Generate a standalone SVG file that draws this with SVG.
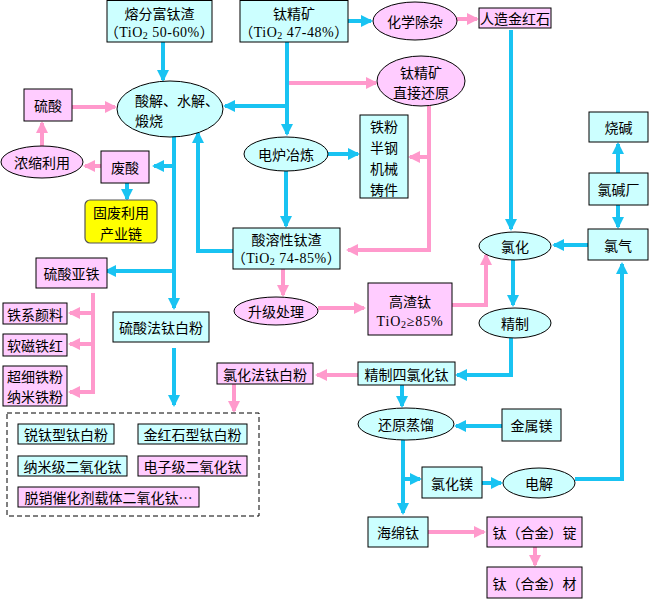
<svg xmlns="http://www.w3.org/2000/svg" width="650" height="600" viewBox="0 0 650 600">
<style>
.c{fill:#CCFFFF;stroke:#000;stroke-width:1}
.p{fill:#FFCCFF;stroke:#000;stroke-width:1}
.y{fill:#FFFF00;stroke:#555;stroke-width:1.2}
.b{fill:none;stroke:#19C3F2;stroke-width:4;marker-end:url(#ab)}
.k{fill:none;stroke:#FF99CC;stroke-width:4;marker-end:url(#ap)}
text{font-family:"Noto Sans CJK SC",sans-serif;font-size:14px;fill:#000;text-anchor:middle;dominant-baseline:central}
.t{font-family:"Liberation Serif","Noto Sans CJK SC",serif;letter-spacing:0.5px}
.l{text-anchor:start}
.s{font-size:10px}
</style>
<defs>
<marker id="ab" markerUnits="userSpaceOnUse" markerWidth="12" markerHeight="12" refX="10" refY="6" orient="auto"><path d="M0,0 L12,6 L0,12 z" fill="#19C3F2"/></marker>
<marker id="ap" markerUnits="userSpaceOnUse" markerWidth="12" markerHeight="12" refX="10" refY="6" orient="auto"><path d="M0,0 L12,6 L0,12 z" fill="#FF99CC"/></marker>
</defs>
<rect width="650" height="600" fill="#fff"/>
<g id="connectors">
<path class="b" d="M163,42 V80"/>
<path class="b" d="M287,42 V134"/>
<path class="b" d="M287,106 H225"/>
<path class="k" d="M289,83 H376"/>
<path class="b" d="M328,154 H358"/>
<path class="b" d="M286,171 V226"/>
<path class="k" d="M429,106 V250 H348"/>
<path class="k" d="M429,157 H410"/>
<path class="b" d="M233,251 H198 V133"/>
<path class="b" d="M174,136 V308"/>
<path class="b" d="M174,166 H154"/>
<path class="b" d="M174,271 H106"/>
<path class="k" d="M72,107 H115"/>
<path class="k" d="M42,147 V123"/>
<path class="k" d="M101,166 H85"/>
<path class="b" d="M127,183 V199"/>
<path class="k" d="M93,293 V392 H70"/>
<path class="k" d="M93,313 H70"/>
<path class="k" d="M93,344 H70"/>
<path class="b" d="M174,348 V405"/>
<path class="k" d="M234,384 V411"/>
<path class="k" d="M358,375 H317"/>
<path class="b" d="M511,30 V229"/>
<path class="b" d="M588,245 H554"/>
<path class="b" d="M513,260 V305"/>
<path class="b" d="M511,338 V375 H457"/>
<path class="b" d="M402,385 V406"/>
<path class="b" d="M502,426 H456"/>
<path class="b" d="M403,440 V513"/>
<path class="b" d="M403,479 H420"/>
<path class="b" d="M482,483 H501"/>
<path class="b" d="M575,479 H622 V264"/>
<path class="b" d="M618,173 V144"/>
<path class="b" d="M618,205 V227"/>
<path class="b" d="M348,21 H371"/>
<path class="k" d="M457,19 H477"/>
<path class="k" d="M283,269 V295"/>
<path class="k" d="M318,308 H364"/>
<path class="k" d="M452,305 H486 V255"/>
<path class="k" d="M428,532 H484"/>
<path class="k" d="M535,547 V565"/>
</g>
<g id="n-rongfen"><rect class="c" x="107" y="0.5" width="105" height="41.5"/><text x="159.5" y="13">熔分富钛渣</text><text class="t" x="159.5" y="32">（TiO<tspan class="s" dy="3">2</tspan><tspan dy="-3"> 50-60%）</tspan></text></g>
<g id="n-taijingkuang"><rect class="c" x="240" y="0.5" width="108" height="41.5"/><text x="294" y="13">钛精矿</text><text class="t" x="294" y="32">（TiO<tspan class="s" dy="3">2</tspan><tspan dy="-3"> 47-48%）</tspan></text></g>
<g id="n-huaxue"><ellipse class="p" cx="415" cy="21" rx="42" ry="19"/><text x="415" y="21">化学除杂</text></g>
<g id="n-rengzao"><rect class="p" x="479" y="8" width="72" height="20"/><text x="515" y="18">人造金红石</text></g>
<g id="n-zhijie"><ellipse class="p" cx="421" cy="81" rx="44" ry="25"/><text x="421" y="72">钛精矿</text><text x="421" y="92">直接还原</text></g>
<g id="n-tiefen"><rect class="c" x="360" y="115" width="48" height="83"/><text x="384" y="126">铁粉</text><text x="384" y="147">半钢</text><text x="384" y="168">机械</text><text x="384" y="189">铸件</text></g>
<g id="n-suanjie"><ellipse class="c" cx="170" cy="109" rx="53" ry="28"/><text class="l" x="135" y="100">酸解、水解、</text><text class="l" x="135" y="120">煅烧</text></g>
<g id="n-dianlu"><ellipse class="c" cx="286" cy="154" rx="42" ry="17"/><text x="286" y="154">电炉冶炼</text></g>
<g id="n-suanrong"><rect class="c" x="233" y="228" width="107" height="41"/><text x="286.5" y="239">酸溶性钛渣</text><text class="t" x="286.5" y="258">（TiO<tspan class="s" dy="3">2</tspan><tspan dy="-3"> 74-85%）</tspan></text></g>
<g id="n-liusuan"><rect class="p" x="24" y="89" width="48" height="32"/><text x="48" y="105">硫酸</text></g>
<g id="n-nongsuo"><ellipse class="p" cx="42" cy="162" rx="41" ry="16"/><text x="42" y="162">浓缩利用</text></g>
<g id="n-feisuan"><rect class="p" x="101" y="151" width="48" height="32"/><text x="125" y="167">废酸</text></g>
<g id="n-gufei"><rect class="y" x="85" y="200" width="72" height="43" rx="5"/><text x="121" y="212">固废利用</text><text x="121" y="233">产业链</text></g>
<g id="n-liusuanyatie"><rect class="p" x="36" y="258" width="71" height="30"/><text x="71.5" y="273">硫酸亚铁</text></g>
<g id="n-tiexi"><rect class="p" x="3" y="303" width="64" height="21"/><text x="35" y="313.5">铁系颜料</text></g>
<g id="n-ruanci"><rect class="p" x="3" y="334" width="64" height="22"/><text x="35" y="345">软磁铁红</text></g>
<g id="n-chaoxi"><rect class="p" x="3" y="366" width="64" height="40"/><text x="35" y="376">超细铁粉</text><text x="35" y="396">纳米铁粉</text></g>
<g id="n-liusuanfa"><rect class="c" x="113" y="312" width="96" height="30"/><text x="161" y="327">硫酸法钛白粉</text></g>
<g id="n-lvhuafa"><rect class="p" x="217" y="363" width="96" height="21"/><text x="265" y="373.5">氯化法钛白粉</text></g>
<g id="n-products">
<rect x="7" y="413" width="252" height="103" fill="none" stroke="#000" stroke-width="1" stroke-dasharray="5,3"/>
<rect class="c" x="18" y="424" width="96" height="20"/><text x="66" y="434">锐钛型钛白粉</text>
<rect class="c" x="138" y="424" width="109" height="20"/><text x="192.5" y="434">金红石型钛白粉</text>
<rect class="c" x="18" y="456" width="109" height="20"/><text x="72.5" y="466">纳米级二氧化钛</text>
<rect class="p" x="138" y="456" width="109" height="20"/><text x="192.5" y="466">电子级二氧化钛</text>
<rect class="p" x="18" y="487" width="181" height="20"/><text x="108.5" y="497">脱销催化剂载体二氧化钛…</text>
</g>
<g id="n-shengji"><ellipse class="p" cx="276" cy="311" rx="42" ry="14"/><text x="276" y="311">升级处理</text></g>
<g id="n-gaozha"><rect class="p" x="368" y="283" width="84" height="52"/><text x="410" y="301">高渣钛</text><text class="t" x="410" y="321" style="letter-spacing:0.8px">TiO<tspan class="s" dy="3">2</tspan><tspan dy="-3">≥85%</tspan></text></g>
<g id="n-lvhua"><ellipse class="c" cx="515" cy="246" rx="36" ry="14"/><text x="515" y="246">氯化</text></g>
<g id="n-jingzhi"><ellipse class="c" cx="515" cy="323" rx="36" ry="15"/><text x="515" y="323">精制</text></g>
<g id="n-silvhuatai"><rect class="c" x="358" y="362" width="97" height="23"/><text x="406.5" y="374">精制四氯化钛</text></g>
<g id="n-huanyuan"><ellipse class="c" cx="406" cy="424" rx="48" ry="16"/><text x="406" y="424">还原蒸馏</text></g>
<g id="n-jinshumei"><rect class="c" x="502" y="409" width="59" height="32"/><text x="531.5" y="425">金属镁</text></g>
<g id="n-lvhuamei"><rect class="c" x="422" y="467" width="60" height="31"/><text x="452" y="482.5">氯化镁</text></g>
<g id="n-dianjie"><ellipse class="c" cx="539" cy="483" rx="36" ry="15"/><text x="539" y="483">电解</text></g>
<g id="n-haimian"><rect class="c" x="368" y="517" width="60" height="30"/><text x="398" y="532">海绵钛</text></g>
<g id="n-ding"><rect class="p" x="487" y="517" width="95" height="30"/><text x="534.5" y="532">钛（合金）锭</text></g>
<g id="n-cai"><rect class="p" x="487" y="567" width="95" height="31"/><text x="534.5" y="582.5">钛（合金）材</text></g>
<g id="n-shaojian"><rect class="c" x="589" y="112" width="59" height="30"/><text x="618.5" y="127">烧碱</text></g>
<g id="n-lvjian"><rect class="c" x="589" y="173" width="59" height="32"/><text x="618.5" y="189">氯碱厂</text></g>
<g id="n-lvqi"><rect class="c" x="588" y="229" width="60" height="31"/><text x="618" y="244.5">氯气</text></g>
</svg>
